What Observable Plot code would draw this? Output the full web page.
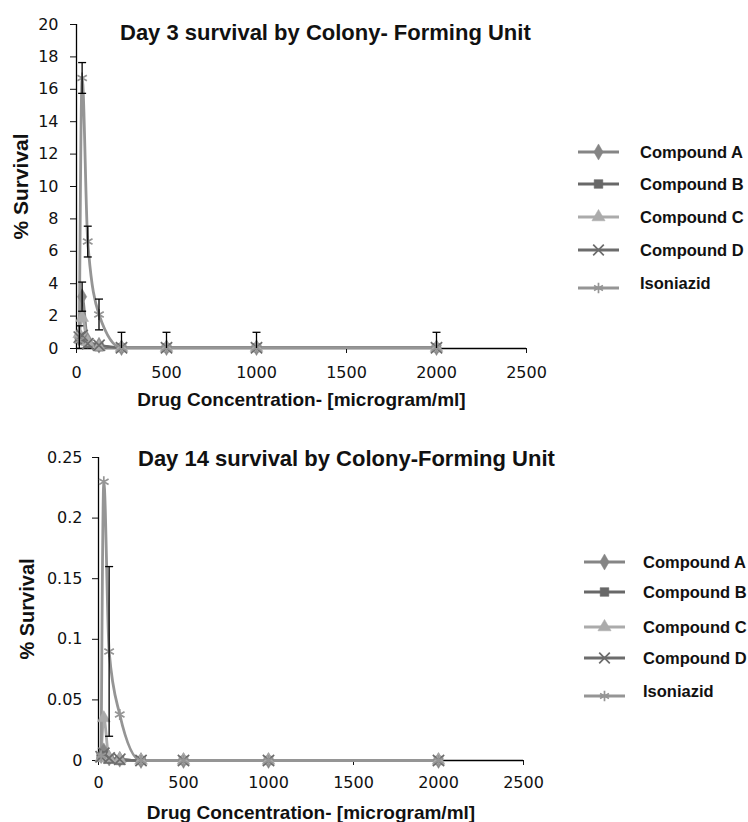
<!DOCTYPE html>
<html><head><meta charset="utf-8">
<script src="https://cdn.jsdelivr.net/npm/d3@7"></script>
<script src="https://cdn.jsdelivr.net/npm/@observablehq/plot@0.6"></script>
<style>
body{margin:0;background:#fff;font-family:"Liberation Sans",Arial,sans-serif;}
#wrap{position:relative;width:748px;height:822px;overflow:hidden;background:#fff;}
.panel{position:absolute;left:0;width:748px;height:411px;}
.title{position:absolute;font-weight:bold;font-size:22px;color:#111;white-space:nowrap;line-height:1;}
.legend{position:absolute;left:0;top:0;}
</style></head><body><div id="wrap"></div><script>
// ---- data ----
const seriesNames = ["Compound A", "Compound B", "Compound C", "Compound D", "Isoniazid"];
const concentrations = [15.6, 31.25, 62.5, 125, 250, 500, 1000, 2000];
const xTicks = [0, 500, 1000, 1500, 2000, 2500];

// Day 3 (% survival)
const day3CompoundA = [0.8, 3.2, 0.5, 0.2, 0.05, 0.05, 0.05, 0.05];
const day3CompoundB = [0.6, 0.5, 0.3, 0.1, 0.05, 0.05, 0.05, 0.05];
const day3CompoundC = [0.9, 1.9, 0.4, 0.1, 0.05, 0.05, 0.05, 0.05];
const day3CompoundD = [0.7, 0.8, 0.3, 0.2, 0.05, 0.05, 0.05, 0.05];
const day3Isoniazid = [0.5, 16.7, 6.6, 2.1, 0.05, 0.05, 0.05, 0.05];
const day3ErrA = [0, 0.9, 0, 0, 0, 0, 0, 0];
const day3ErrB = [0, 0, 0, 0, 0, 0, 0, 0];
const day3ErrC = [0, 0, 0, 0, 0, 0, 0, 0];
const day3ErrD = [0.7, 0, 0, 0, 0, 0, 0, 0];
const day3ErrIso = [0, 0.95, 0.95, 0.95, 0.95, 0.95, 0.95, 0.95];
const day3YTicks = [0, 2, 4, 6, 8, 10, 12, 14, 16, 18, 20];

// Day 14 (% survival)
const day14CompoundA = [0.004, 0.008, 0.002, 0.001, 0, 0, 0, 0];
const day14CompoundB = [0.003, 0.004, 0.001, 0.0, 0, 0, 0, 0];
const day14CompoundC = [0.002, 0.035, 0.002, 0.001, 0, 0, 0, 0];
const day14CompoundD = [0.003, 0.006, 0.002, 0.001, 0, 0, 0, 0];
const day14Isoniazid = [0.004, 0.23, 0.09, 0.038, 0, 0, 0, 0];
const day14ErrA = [0, 0, 0, 0, 0, 0, 0, 0];
const day14ErrB = [0, 0, 0, 0, 0, 0, 0, 0];
const day14ErrC = [0, 0, 0, 0, 0, 0, 0, 0];
const day14ErrD = [0, 0, 0, 0, 0, 0, 0, 0];
const day14ErrIso = [0, 0, 0.07, 0, 0, 0, 0, 0];
const day14YTicks = [0, 0.05, 0.1, 0.15, 0.2, 0.25];

// ---- styles ----
const lineColors = ["#858585", "#686868", "#ababab", "#6c6c6c", "#959595"];
const symbols = ["diamond", "square", "triangle", "times", "asterisk"];
const filled = [true, true, true, false, false];
const tickFont = '"DejaVu Sans", Verdana, sans-serif';
const boldFont = '"Liberation Sans", Arial, sans-serif';

const capSymbol = {draw(ctx, size) { const w = Math.sqrt(size) / 2; ctx.moveTo(-w, 0); ctx.lineTo(w, 0); }};

function makePanel(cfg) {
  const rows = [];
  cfg.values.forEach((vals, i) => vals.forEach((v, j) => rows.push({series: seriesNames[i], i, x: concentrations[j], y: v, e: cfg.errors[i][j]})));
  const errRows = rows.filter(d => d.e > 0);
  const marks = [
    Plot.ruleY([0], {stroke: "#000", strokeWidth: 1.3}),
    Plot.ruleX([0], {stroke: "#000", strokeWidth: 1.3}),
    Plot.axisX({ticks: xTicks, tickSize: 5, tickPadding: cfg.xPad, tickFormat: d => String(d), fontSize: 16, fontFamily: tickFont, label: null, color: "#111"}),
    Plot.axisY({ticks: cfg.yTicks, tickSize: 6, tickPadding: cfg.yPad, tickFormat: d => String(d), fontSize: 16, fontFamily: tickFont, label: null, color: "#111"}),
  ];
  seriesNames.forEach((s, i) => {
    const data = rows.filter(d => d.i === i);
    marks.push(Plot.line(data, {x: "x", y: "y", stroke: lineColors[i], strokeWidth: 2.8, curve: "monotone-x"}));
  });
  seriesNames.forEach((s, i) => {
    const data = rows.filter(d => d.i === i);
    marks.push(Plot.dot(data, filled[i]
      ? {x: "x", y: "y", symbol: symbols[i], r: 4.8, fill: lineColors[i], stroke: lineColors[i], strokeWidth: 0.5}
      : {x: "x", y: "y", symbol: symbols[i], r: 5.2, fill: "none", stroke: lineColors[i], strokeWidth: 1.7}));
  });
  marks.push(
    Plot.link(errRows, {x1: "x", x2: "x", y1: d => d.y - d.e, y2: d => d.y + d.e, stroke: "#000", strokeWidth: 1.3, clip: true}),
    Plot.dot(errRows, {x: "x", y: d => d.y + d.e, symbol: capSymbol, r: 4.5, stroke: "#000", strokeWidth: 1.3, clip: true}),
    Plot.dot(errRows, {x: "x", y: d => d.y - d.e, symbol: capSymbol, r: 4.5, stroke: "#000", strokeWidth: 1.3, clip: true}),
    Plot.text(["% Survival"], {text: d => d, frameAnchor: "left", textAnchor: "middle", lineAnchor: "middle", rotate: -90, dx: -cfg.ylabelDx, fontSize: cfg.ylabelSize, fontWeight: "bold", fontFamily: boldFont, fill: "#111"}),
    Plot.text(["Drug Concentration- [microgram/ml]"], {text: d => d, frameAnchor: "bottom", textAnchor: "middle", lineAnchor: "middle", dy: cfg.xlabelDy, fontSize: 19, fontWeight: "bold", fontFamily: boldFont, fill: "#111"})
  );
  return Plot.plot({
    width: 748, height: 411,
    marginLeft: cfg.ml, marginRight: cfg.mr, marginTop: cfg.mt, marginBottom: cfg.mb,
    style: {fontFamily: boldFont, background: "#fff", overflow: "visible"},
    x: {domain: [0, 2500], axis: null},
    y: {domain: cfg.yDomain, axis: null},
    marks
  });
}

function addLegend(container, left, tops, textLeft) {
  const svg = d3.select(container).append("svg").attr("class", "legend").attr("width", 748).attr("height", 411)
    .style("position", "absolute").style("left", "0px").style("top", "0px");
  seriesNames.forEach((s, i) => {
    const ty = tops[i];
    const ly = i === 4 ? ty + 5 : ty;
    svg.append("line").attr("x1", left).attr("x2", left + 41).attr("y1", ly).attr("y2", ly)
      .attr("stroke", lineColors[i]).attr("stroke-width", 3);
    const sym = d3.symbol().type([d3.symbolDiamond, d3.symbolSquare, d3.symbolTriangle, d3.symbolTimes, d3.symbolAsterisk][i]).size(75);
    svg.append("path").attr("d", sym()).attr("transform", `translate(${left + 20.5},${ly})`)
      .attr("fill", filled[i] ? lineColors[i] : "none").attr("stroke", lineColors[i]).attr("stroke-width", filled[i] ? 0.5 : 1.7);
    svg.append("text").attr("x", textLeft).attr("y", ty).attr("dy", "0.35em")
      .attr("font-family", boldFont).attr("font-size", 16.5).attr("font-weight", "bold")
      .attr("fill", "#111").text(s);
  });
}

const wrap = document.getElementById("wrap");

const topPanel = document.createElement("div"); topPanel.className = "panel"; topPanel.style.top = "0px"; wrap.appendChild(topPanel);
topPanel.appendChild(makePanel({
  values: [day3CompoundA, day3CompoundB, day3CompoundC, day3CompoundD, day3Isoniazid],
  errors: [day3ErrA, day3ErrB, day3ErrC, day3ErrD, day3ErrIso],
  yTicks: day3YTicks, yDomain: [0, 20],
  ml: 76, mr: 222, mt: 24, mb: 63, ylabelDx: 55, ylabelSize: 21, xlabelDy: 51, xPad: 13, yPad: 12
}));
addLegend(topPanel, 578, [152, 184, 217, 250, 283], 640);
const t1 = document.createElement("div"); t1.className = "title"; t1.style.left = "120px"; t1.style.top = "22px";
t1.textContent = "Day 3 survival by Colony- Forming Unit"; topPanel.appendChild(t1);

const botPanel = document.createElement("div"); botPanel.className = "panel"; botPanel.style.top = "411px"; wrap.appendChild(botPanel);
botPanel.appendChild(makePanel({
  values: [day14CompoundA, day14CompoundB, day14CompoundC, day14CompoundD, day14Isoniazid],
  errors: [day14ErrA, day14ErrB, day14ErrC, day14ErrD, day14ErrIso],
  yTicks: day14YTicks, yDomain: [0, 0.25],
  ml: 98, mr: 225, mt: 46, mb: 62, ylabelDx: 71, ylabelSize: 20, xlabelDy: 52, xPad: 11, yPad: 10
}));
addLegend(botPanel, 584, [151, 181, 216, 247, 280], 643);
const t2 = document.createElement("div"); t2.className = "title"; t2.style.left = "138px"; t2.style.top = "37px";
t2.textContent = "Day 14 survival by Colony-Forming Unit"; botPanel.appendChild(t2);
</script></body></html>
